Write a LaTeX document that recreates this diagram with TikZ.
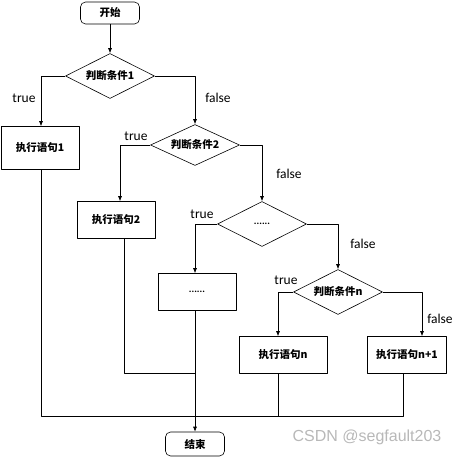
\documentclass[tikz,border=0pt]{standalone}
\usepackage{fontspec}
\setmainfont{Carlito}
\newfontfamily\cjk{Noto Sans CJK SC}
\newfontfamily\wmfont{Liberation Sans}
\usetikzlibrary{shapes.geometric,arrows.meta}
\tikzset{
	term/.style={draw, rounded corners=5pt, minimum width=59pt, minimum height=22pt, font=\cjk\bfseries\fontsize{10.5}{12}\selectfont},
	cond/.style={draw, diamond, shape aspect=2, inner sep=0pt, minimum width=89pt, minimum height=45pt, font=\cjk\bfseries\fontsize{10.5}{12}\selectfont},
	stmt/.style={draw, minimum width=78pt, minimum height=37pt, font=\cjk\bfseries\fontsize{10.5}{12}\selectfont},
	tf/.style={font=\fontsize{13.5}{15}\selectfont},
	dots/.style={font=\bfseries\fontsize{10}{12}\selectfont}
}
\begin{document}
\begin{tikzpicture}[x=1pt, y=-1pt, line join=round, line width=0.6pt, >={Latex[length=5pt,width=4pt]}]
	\useasboundingbox (0,0) rectangle (458,457);
	\node[term] (start) at (110,13) {开始};
	\node[cond] (c1) at (110,76) {判断条件1};
	\node[stmt, minimum height=43pt] (s1) at (40,148) {执行语句1};
	\node[cond, minimum height=41pt] (c2) at (195,145) {判断条件2};
	\node[stmt] (s2) at (116,220) {执行语句2};
	\node[cond, dots] (c3) at (262,224) {......};
	\node[stmt, dots] (s3) at (197,292) {......};
	\node[cond] (cn) at (338,292) {判断条件n};
	\node[stmt, minimum width=88pt] (sn) at (283,355) {执行语句n};
	\node[stmt, minimum width=79pt] (sn1) at (407,355) {执行语句n+1};
	\node[term, minimum height=24pt] (stop) at (195,444) {结束};
	\coordinate (join) at (195,416);
	\coordinate (join2) at (195,373);
	
	% 分支
	\draw[->] (start) -- (c1);
	\draw[->] (c1.west) -| ([xshift=1pt]s1.north);
	\draw[->] (c1.east) -| (c2.north);
	\draw[->] (c2.west) -| ([xshift=4pt]s2.north);
	\draw[->] (c2.east) -| (c3.north);
	\draw[->] (c3.west) -| ([xshift=-2pt]s3.north);
	\draw[->] (c3.east) -| (cn.north);
	\draw[->] (cn.west) -| ([xshift=-5pt]sn.north);
	\draw[->] (cn.east) -| ([xshift=15pt]sn1.north);
	
	% 汇合
	\draw ([xshift=1pt]s1.south) |- (join);
	\draw ([xshift=-4pt]sn1.south) |- (join);
	\draw ([xshift=-5pt]sn.south) -- ([xshift=-5pt]sn.south |- join);
	\draw ([xshift=8pt]s2.south) |- (join2);
	\draw[->] ([xshift=-2pt]s3.south) -- (stop.north);
	
	\foreach \n/\x/\y/\lab in {
		t1/24/98/true, f1/218/98/false,
		t2/136/136/true, f2/289/174/false,
		t3/202/214/true, f3/363/244/false,
		t4/286/280/true, f4/440/319/false
	} \node[tf] (\n) at (\x,\y) {\lab};
	
	\node[font=\wmfont\fontsize{16}{18}\selectfont, text=black!28] (mark) at (367,437) {CSDN @segfault203};
\end{tikzpicture}
\end{document}
